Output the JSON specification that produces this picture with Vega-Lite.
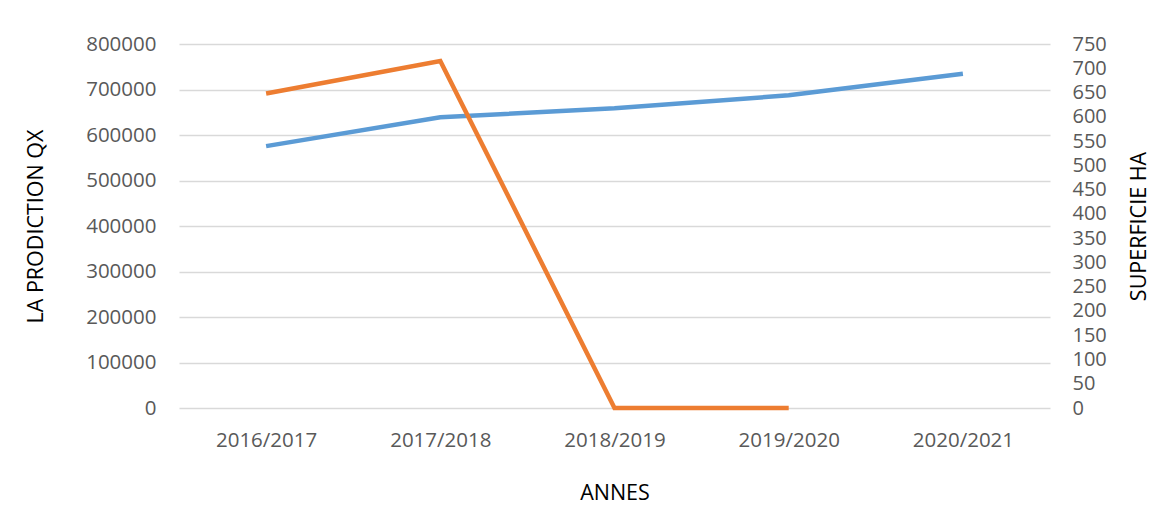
{
  "$schema": "https://vega.github.io/schema/vega-lite/v6.json",
  "width": 871,
  "height": 364,
  "autosize": {"type": "none"},
  "padding": {"left": 179, "top": 44, "right": 121, "bottom": 110},
  "background": "white",
  "config": {
    "view": {"stroke": null},
    "font": "Open Sans",
    "axis": {
      "labelFont": "Open Sans",
      "labelFontSize": 20.5,
      "labelColor": "#595959",
      "titleFont": "Open Sans",
      "titleFontSize": 21.5,
      "titleFontWeight": "normal",
      "titleColor": "#000000",
      "domain": false,
      "ticks": false,
      "gridColor": "#D9D9D9",
      "gridWidth": 1.3
    }
  },
  "data": {
    "values": [
      {"annee": "2016/2017", "production": 575600, "superficie": 648},
      {"annee": "2017/2018", "production": 638800, "superficie": 715},
      {"annee": "2018/2019", "production": 658600, "superficie": 0},
      {"annee": "2019/2020", "production": 687200, "superficie": 0},
      {"annee": "2020/2021", "production": 734700, "superficie": null}
    ]
  },
  "encoding": {
    "x": {
      "field": "annee",
      "type": "nominal",
      "sort": null,
      "scale": {"type": "point", "padding": 0.5},
      "axis": {"title": "ANNES", "labelAngle": 0, "labelPadding": 22, "titlePadding": 32, "grid": false}
    }
  },
  "layer": [
    {
      "mark": {"type": "line", "color": "#5B9BD5", "strokeWidth": 4.5},
      "encoding": {
        "y": {
          "field": "production",
          "type": "quantitative",
          "scale": {"domain": [0, 800000]},
          "axis": {
            "title": "LA PRODICTION QX",
            "orient": "left",
            "values": [0, 100000, 200000, 300000, 400000, 500000, 600000, 700000, 800000],
            "format": "d",
            "labelPadding": 23,
            "titlePadding": 38,
            "grid": true
          }
        }
      }
    },
    {
      "mark": {"type": "line", "color": "#ED7D31", "strokeWidth": 4.5},
      "encoding": {
        "y": {
          "field": "superficie",
          "type": "quantitative",
          "scale": {"domain": [0, 750]},
          "axis": {
            "title": "SUPERFICIE HA",
            "titleAngle": 270,
            "titleBaseline": "top",
            "orient": "right",
            "values": [0, 50, 100, 150, 200, 250, 300, 350, 400, 450, 500, 550, 600, 650, 700, 750],
            "format": "d",
            "labelFontSize": 20,
            "labelPadding": 22,
            "titlePadding": 22,
            "grid": false
          }
        }
      }
    }
  ],
  "resolve": {"scale": {"y": "independent"}}
}
